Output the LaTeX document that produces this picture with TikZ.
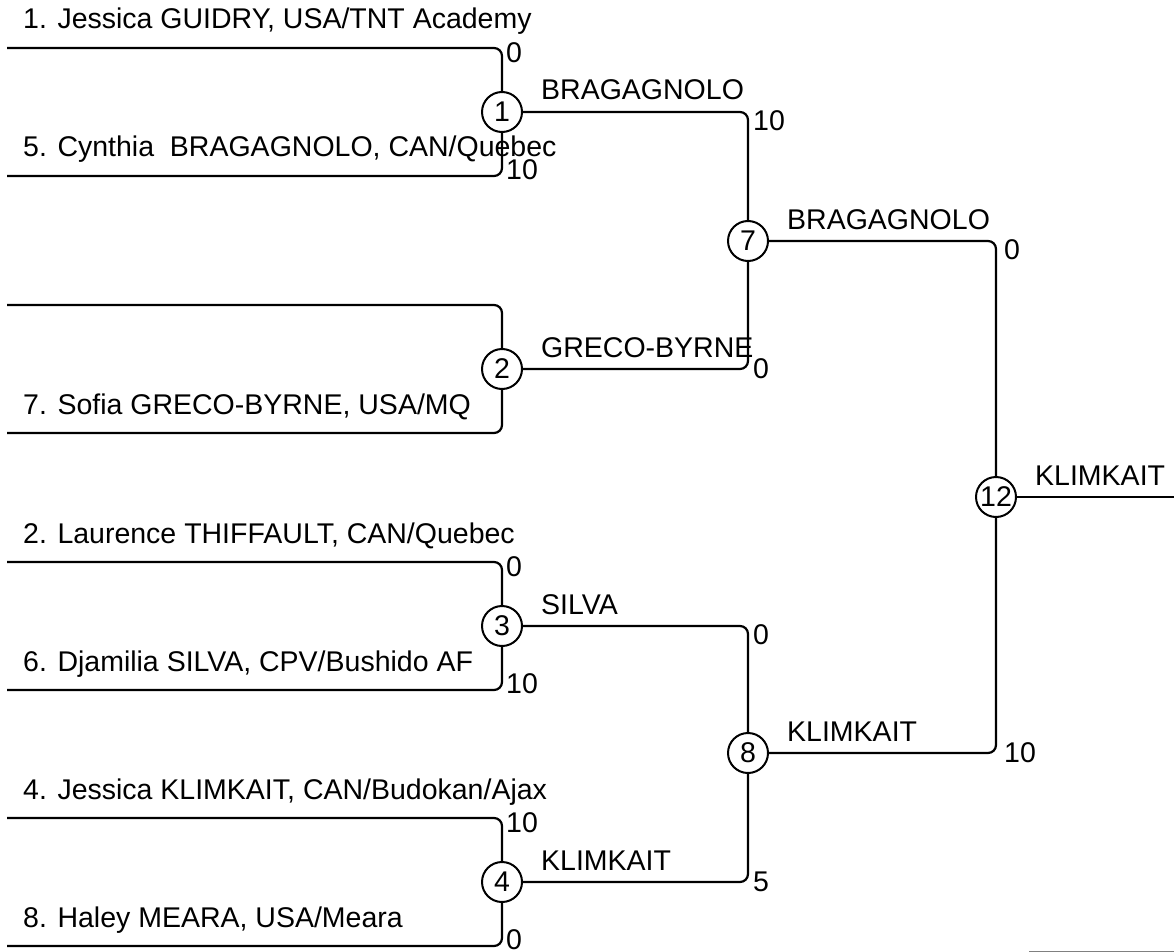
\documentclass[tikz,border=0pt]{standalone}
\usepackage{fontspec}
\setmainfont{Liberation Sans}
\begin{document}
\begin{tikzpicture}[x=1pt,y=-1pt,
    bout/.style={circle,draw,line width=2pt,minimum size=40pt,inner sep=0pt},
    bline/.style={line width=2.2pt,rounded corners=8pt},
    entrant/.style={anchor=base west,inner sep=0pt},
    winner/.style={anchor=base west,inner sep=0pt},
    score/.style={anchor=west,inner sep=0pt},
    font=\fontsize{28.5}{33}\selectfont]

    % Fix the size of the picture
    \useasboundingbox (0,0) rectangle (1174,952);

    % Bouts of the first round
    \node[bout] (b1) at (502,112) {1};
    \node[bout] (b2) at (502,369) {2};
    \node[bout] (b3) at (502,626) {3};
    \node[bout] (b4) at (502,882) {4};

    % Bouts of the semi-finals and the final
    \node[bout] (b7) at (748,241) {7};
    \node[bout] (b8) at (748,753) {8};
    \node[bout] (b12) at (996,497) {12};

    % Free ends of the entry lines
    \coordinate (e1) at (7,48);      % GUIDRY
    \coordinate (e5) at (7,176);     % BRAGAGNOLO
    \coordinate (ebye) at (7,305);   % empty slot
    \coordinate (e7) at (7,433);     % GRECO-BYRNE
    \coordinate (e2) at (7,562);     % THIFFAULT
    \coordinate (e6) at (7,690);     % SILVA
    \coordinate (e4) at (7,818);     % KLIMKAIT
    \coordinate (e8) at (7,946);     % MEARA
    \coordinate (fin) at (1174,497); % end of the final

    % Entry lines into the first round
    \draw[bline] (e1) -| (b1);
    \draw[bline] (e5) -| (b1);
    \draw[bline] (ebye) -| (b2);
    \draw[bline] (e7) -| (b2);
    \draw[bline] (e2) -| (b3);
    \draw[bline] (e6) -| (b3);
    \draw[bline] (e4) -| (b4);
    \draw[bline] (e8) -| (b4);

    % Winners moving on
    \draw[bline] (b1) -| (b7);
    \draw[bline] (b2) -| (b7);
    \draw[bline] (b3) -| (b8);
    \draw[bline] (b4) -| (b8);
    \draw[bline] (b7) -| (b12);
    \draw[bline] (b8) -| (b12);
    \draw[bline] (b12) -- (fin);

    % Names of the entrants
    \node[entrant] (n1) at (23,29) {1. Jessica GUIDRY, USA/TNT Academy};
    \node[entrant] (n5) at (23,157) {5. Cynthia~ BRAGAGNOLO, CAN/Quebec};
    \node[entrant] (n7) at (23,414) {7. Sofia GRECO-BYRNE, USA/MQ};
    \node[entrant] (n2) at (23,543) {2. Laurence THIFFAULT, CAN/Quebec};
    \node[entrant] (n6) at (23,671) {6. Djamilia SILVA, CPV/Bushido AF};
    \node[entrant] (n4) at (23,799) {4. Jessica KLIMKAIT, CAN/Budokan/Ajax};
    \node[entrant] (n8) at (23,927) {8. Haley MEARA, USA/Meara};

    % Names of the winners
    \node[winner] (w1) at ([shift={(18,-12)}]b1.east) {BRAGAGNOLO};
    \node[winner] (w2) at ([shift={(18,-12)}]b2.east) {GRECO-BYRNE};
    \node[winner] (w3) at ([shift={(18,-12)}]b3.east) {SILVA};
    \node[winner] (w4) at ([shift={(18,-12)}]b4.east) {KLIMKAIT};
    \node[winner] (w7) at ([shift={(18,-12)}]b7.east) {BRAGAGNOLO};
    \node[winner] (w8) at ([shift={(18,-12)}]b8.east) {KLIMKAIT};
    \node[winner] (w12) at ([shift={(18,-12)}]b12.east) {KLIMKAIT};

    % Scores of the first round
    \node[score] (s1) at (506,53) {0};
    \node[score] (s5) at (506,170) {10};
    \node[score] (s2) at (506,567) {0};
    \node[score] (s6) at (506,684) {10};
    \node[score] (s4) at (506,823) {10};
    \node[score] (s8) at (506,940) {0};

    % Scores of the semi-finals and the final
    \node[score] (sb1) at (753,121) {10};
    \node[score] (sb2) at (753,369) {0};
    \node[score] (sb3) at (753,635) {0};
    \node[score] (sb4) at (753,882) {5};
    \node[score] (sb7) at (1004,250) {0};
    \node[score] (sb8) at (1004,753) {10};

    % Short grey rule in the bottom corner
    \draw[gray,line width=1pt] (1029,951) -- (1174,951);

\end{tikzpicture}
\end{document}
